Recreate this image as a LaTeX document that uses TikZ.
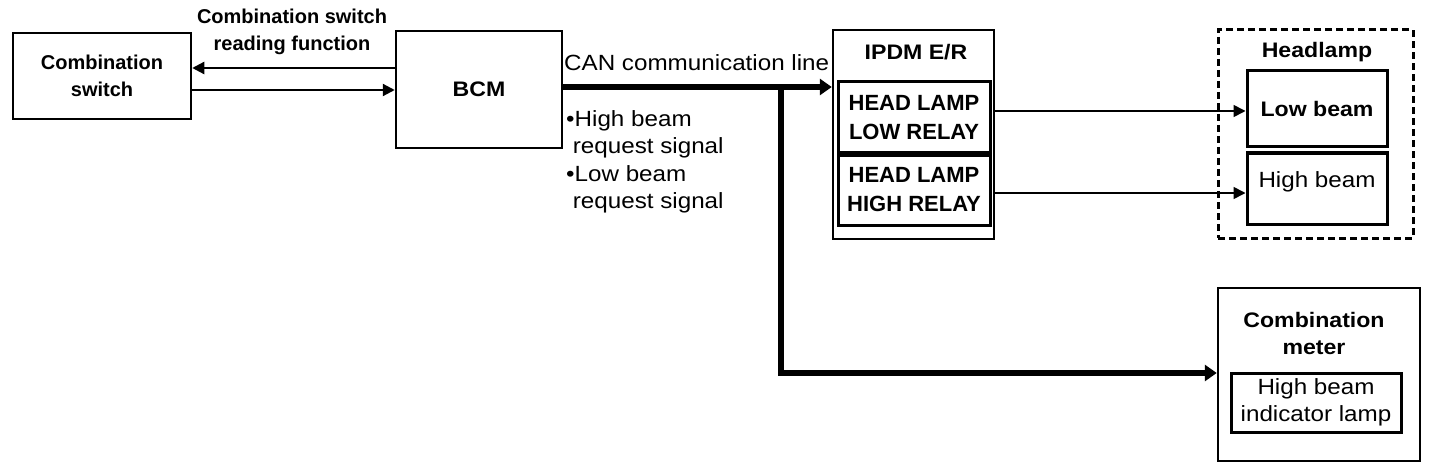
\documentclass[tikz,border=0pt]{standalone}
\usepackage{fontspec}
\setmainfont{Liberation Sans}
\newfontfamily\widesans{Liberation Sans}[FakeStretch=1.1]
\usetikzlibrary{arrows.meta}
\newcommand\ftitle{\fontsize{20}{27}\selectfont\bfseries}
\newcommand\fbig{\widesans\fontsize{21}{27}\selectfont\bfseries}
\newcommand\fsig{\widesans\fontsize{22}{27.5}\selectfont}
\newcommand\frelay{\fontsize{22}{29}\selectfont\bfseries}
\tikzset{
  box/.style={draw, line width=2.5pt, inner sep=0pt, align=center},
  ibox/.style={draw, line width=3pt, inner sep=0pt, align=center},
  txt/.style={inner sep=0pt, align=center},
  arr/.style={line width=2.2pt, -{Triangle[length=12pt,width=12pt]}},
  canarr/.style={line width=6pt, -{Triangle[length=12pt,width=16pt]}},
}
\begin{document}
\begin{tikzpicture}[x=1pt,y=-1pt]
\useasboundingbox (0,0) rectangle (1440,468);
% boxes
\node[box, minimum width=178pt, minimum height=86pt, font=\ftitle] (cs) at (102,76) {Combination\\switch};
\node[box, minimum width=166pt, minimum height=117pt, font=\fbig] (bcm) at (479,89.5) {BCM};
\node[box, minimum width=161pt, minimum height=209pt] (ipdm) at (913.5,134.5) {};
\node[txt, font=\fbig] (ipdmt) at (916,52) {IPDM E/R};
\node[ibox, minimum width=152pt, minimum height=71pt, font=\frelay] (rlow) at (914,117.5) {HEAD LAMP\\LOW RELAY};
\node[ibox, minimum width=152pt, minimum height=70pt, font=\frelay] (rhigh) at (914,190) {HEAD LAMP\\HIGH RELAY};
\node[draw, line width=3pt, dash pattern=on 7pt off 4pt, minimum width=195pt, minimum height=208pt, inner sep=0pt] (head) at (1315.5,134) {};
\node[txt, font=\fbig] (headt) at (1317,52) {Headlamp};
\node[ibox, minimum width=140pt, minimum height=76pt, font=\fbig] (low) at (1317,109) {Low beam};
\node[ibox, minimum width=140pt, minimum height=71pt] (high) at (1317,188.5) {};
\node[txt, font=\fsig] (hight) at (1317,182) {High beam};
\node[box, minimum width=202pt, minimum height=173pt] (meter) at (1319,374.5) {};
\node[txt, font=\fbig] (metert) at (1314,333) {Combination\\meter};
\node[ibox, minimum width=170pt, minimum height=59pt, font=\fsig] (ind) at (1316,402.5) {High beam\\indicator lamp};
% labels
\node[txt, font=\ftitle] (rdl) at (292,32) {Combination switch\\reading function};
\node[txt, font=\fsig, anchor=west] (canl) at (564,63) {CAN communication line};
\node[txt, font=\fsig, anchor=north west, align=left] (sig) at (566,110) {•High beam\\\ request signal\\•Low beam\\\ request signal};
% connectors
\draw[arr] (bcm.west |- 0,68) -- (cs.east |- 0,68);
\draw[arr] (cs.east |- 0,90) -- (bcm.west |- 0,90);
\draw[canarr] (bcm.east |- 0,87) -- (ipdm.west |- 0,87);
\coordinate (br) at (781,87);
\draw[canarr] (br) |- (meter.west |- 0,373);
\draw[arr, line width=1.6pt] (ipdm.east |- 0,111) -- (low.west |- 0,111);
\draw[arr, line width=1.6pt] (ipdm.east |- 0,193) -- (high.west |- 0,193);
\end{tikzpicture}
\end{document}
